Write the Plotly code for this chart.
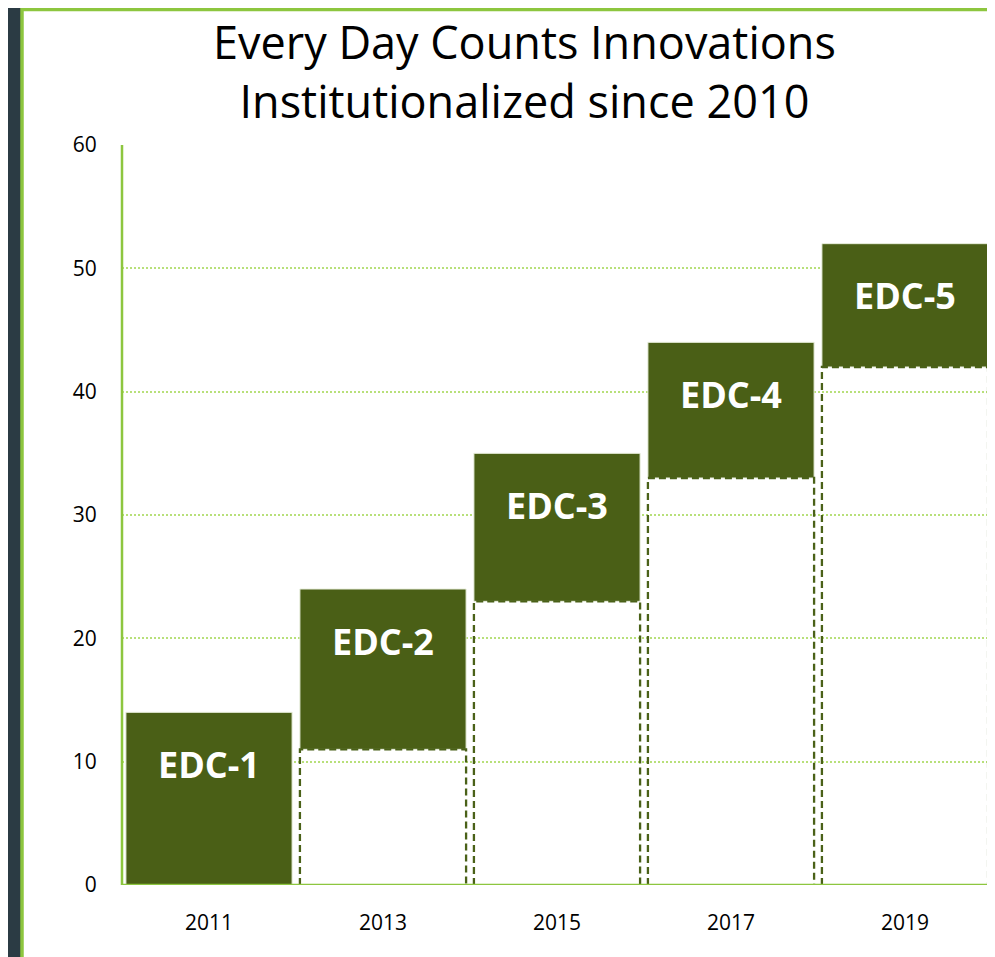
import plotly.graph_objects as go

years = ["2011", "2013", "2015", "2017", "2019"]
labels = ["EDC-1", "EDC-2", "EDC-3", "EDC-4", "EDC-5"]
base_vals = [0, 11, 23, 33, 42]
top_vals = [14, 24, 35, 44, 52]
y_ticks = [0, 10, 20, 30, 40, 50, 60]
title_lines = ["Every Day Counts Innovations", "Institutionalized since 2010"]

OFF = 8  # page body margin
W, H = 995 - OFF, 957 - OFF
GREEN = "#4a5f16"
LIME = "#8dc63f"
GRID = "#b8e07a"
DASH = "#4a6118"


def fx(X):
    return (X - OFF) / W


def fy(Y):
    return 1 - (Y - OFF) / H


xs = list(range(len(years)))
bw = 0.955

fig = go.Figure()

# dashed outline for the white "base" portion
for i, (b, t) in enumerate(zip(base_vals, top_vals)):
    if b <= 0:
        continue
    x0, x1 = xs[i] - bw / 2, xs[i] + bw / 2
    fig.add_trace(go.Scatter(
        x=[x0, x0, x1, x1], y=[0, b, b, 0], mode="lines",
        line=dict(color=DASH, width=2.3, dash="7px,4px"),
        hoverinfo="skip", showlegend=False, cliponaxis=False))

fig.add_trace(go.Bar(
    x=xs, y=[t - b for b, t in zip(base_vals, top_vals)], base=base_vals,
    width=bw, marker=dict(color=GREEN, line=dict(color="#e8eedc", width=1)),
    showlegend=False, hoverinfo="skip"))

for i, (t, lab) in enumerate(zip(top_vals, labels)):
    fig.add_annotation(x=xs[i], y=t, text=f"<b>{lab}</b>", showarrow=False,
                       yanchor="middle", yshift=-52,
                       font=dict(family="Open Sans", size=36, color="black" if False else "white"))

# title (two lines, one text block)
fig.add_annotation(xref="paper", yref="paper", x=fx(524), y=fy(71.5),
                   xanchor="center", yanchor="middle", showarrow=False,
                   text="<br>".join(title_lines),
                   font=dict(family="Open Sans", size=45, color="black"))

fig.update_layout(
    width=W, height=H,
    margin=dict(l=0, r=0, t=0, b=0, autoexpand=False),
    paper_bgcolor="#2b3b44",
    plot_bgcolor="rgba(0,0,0,0)",
    template="none",
    xaxis=dict(domain=[fx(122), fx(992)], range=[-0.5, len(years) - 0.5],
               automargin=False,
               tickvals=xs, ticktext=years, showgrid=False, zeroline=False,
               showline=False, ticks="outside", ticklen=19, tickcolor="rgba(0,0,0,0)",
               tickfont=dict(family="Open Sans", size=21, color="black")),
    yaxis=dict(domain=[fy(885), fy(145)], range=[0, 60],
               automargin=False,
               tickvals=y_ticks, showgrid=True, gridcolor=GRID, griddash="2px,2px",
               gridwidth=1.5, zeroline=False, showline=False,
               ticks="outside", ticklen=20, tickcolor="rgba(0,0,0,0)",
               tickfont=dict(family="Open Sans", size=21, color="black")),
    bargap=0.045,
)

# white panel with lime border (top border kept inside the drawable area)
fig.add_shape(type="rect", xref="paper", yref="paper",
              x0=fx(22), x1=1.02, y0=-0.02, y1=fy(9.5),
              line=dict(color=LIME, width=3.5), fillcolor="white", layer="below")
# axis lines
fig.add_shape(type="line", xref="x domain", yref="y", x0=0, x1=1, y0=0, y1=0,
              line=dict(color=LIME, width=2.5))
fig.add_shape(type="line", xref="x domain", yref="y", x0=0, x1=0, y0=0, y1=60,
              line=dict(color=LIME, width=2.5), layer="above")

fig.write_html("out.html")
